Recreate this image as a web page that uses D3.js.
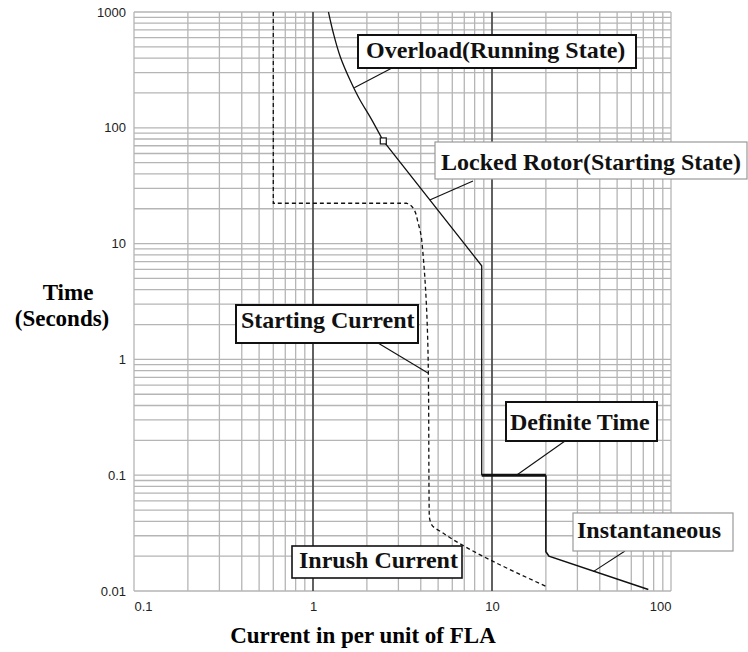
<!DOCTYPE html>
<html>
<head>
<meta charset="utf-8">
<script src="https://cdn.jsdelivr.net/npm/d3@7"></script>
<style>
  html, body { margin: 0; padding: 0; background: #fff; }
  #chart { width: 748px; height: 652px; }
</style>
</head>
<body>
<div id="chart"></div>
<script>
// tick values
var xTicks = [0.1, 1, 10, 100];
var yTicks = [0.01, 0.1, 1, 10, 100, 1000];
var majorX = [1, 10];

// curves, [current pu, time s]
var overloadCurve = [[1.22, 1000], [1.30, 655], [1.42, 411], [1.61, 259], [1.83, 174], [2.08, 125], [2.47, 77]];
var lockedRotor = [[2.47, 77], [8.76, 6.44], [8.76, 0.1]];
var definiteTime = [[8.76, 0.1], [20, 0.1]];
var instantaneous = [[20, 0.1], [20, 0.0218], [20.8, 0.02], [74.7, 0.0103]];
var startingCurrent = [[0.6, 1000], [0.6, 22.3], [3.34, 22.3], [3.63, 20.2], [3.87, 15], [4.05, 10.7], [4.41, 0.76], [4.46, 0.0453], [4.61, 0.0372], [5.35, 0.0315], [20.2, 0.0109]];
var markerPoint = [2.47, 77];

// annotation texts and the curve point each leader touches
var labelTexts = ["Overload(Running State)", "Locked Rotor(Starting State)", "Starting Current", "Definite Time", "Instantaneous", "Inrush Current"];
var leaderTargets = [[1.70, 222], [4.49, 23.8], [4.41, 0.76], [13.7, 0.1], [36.8, 0.0147], null];

var W = 748, H = 652;
var svg = d3.select("#chart").append("svg")
    .attr("width", W)
    .attr("height", H)
    .style("background", "#fff");

var x = d3.scaleLog().domain([0.1, 100]).range([134, 671]);
var y = d3.scaleLog().domain([0.01, 1000]).range([591, 12]);

// grid
var gridX = [], gridY = [];
for (var k = -1; k <= 1; k++) for (var d = 1; d <= 9; d++) gridX.push(d * Math.pow(10, k));
gridX.push(100);
for (var k = -2; k <= 2; k++) for (var d = 1; d <= 9; d++) gridY.push(d * Math.pow(10, k));
gridY.push(1000);

var grid = svg.append("g");
grid.selectAll("line.h").data(gridY).enter().append("line")
    .attr("class", "h")
    .attr("x1", x.range()[0]).attr("x2", x.range()[1])
    .attr("y1", function(v) { return y(v); }).attr("y2", function(v) { return y(v); })
    .style("stroke", "#b5b5b5").style("stroke-width", 1.3);
grid.selectAll("line.v").data(gridX).enter().append("line")
    .attr("class", "v")
    .attr("y1", y.range()[0]).attr("y2", y.range()[1])
    .attr("x1", function(v) { return x(v); }).attr("x2", function(v) { return x(v); })
    .style("stroke", "#b5b5b5").style("stroke-width", 1.3);
grid.selectAll("line.m").data(majorX).enter().append("line")
    .attr("class", "m")
    .attr("y1", y.range()[0]).attr("y2", y.range()[1])
    .attr("x1", function(v) { return x(v); }).attr("x2", function(v) { return x(v); })
    .style("stroke", "#3c3c3c").style("stroke-width", 1.5);

// axes (labels only)
var fmt = function(v) { return String(v); };
var ax = svg.append("g")
    .attr("transform", "translate(0," + y.range()[0] + ")")
    .call(d3.axisBottom(x).tickValues(xTicks).tickSize(0).tickPadding(11).tickFormat(fmt));
var ay = svg.append("g")
    .attr("transform", "translate(" + x.range()[0] + ",0)")
    .call(d3.axisLeft(y).tickValues(yTicks).tickSize(0).tickPadding(8).tickFormat(fmt));
[ax, ay].forEach(function(a) {
  a.select(".domain").remove();
  a.selectAll("text")
    .style("font-family", "'Liberation Sans', Arial, sans-serif")
    .style("font-size", "13px")
    .style("fill", "#222");
});
ax.selectAll("text").attr("text-anchor", function(v, i) {
  return i == 0 ? "start" : (i == xTicks.length - 1 ? "end" : "middle");
});

// axis titles
var titleFont = "'Liberation Serif', 'Times New Roman', serif";
svg.append("text").attr("x", 68).attr("y", 300).attr("text-anchor", "middle")
    .style("font-family", titleFont).style("font-weight", "bold").style("font-size", "23px")
    .text("Time");
svg.append("text").attr("x", 62).attr("y", 326).attr("text-anchor", "middle")
    .style("font-family", titleFont).style("font-weight", "bold").style("font-size", "23px")
    .text("(Seconds)");
svg.append("text").attr("x", 363).attr("y", 643).attr("text-anchor", "middle")
    .style("font-family", titleFont).style("font-weight", "bold").style("font-size", "23px")
    .text("Current in per unit of FLA");

// curves
var line = d3.line()
    .x(function(p) { return x(p[0]); })
    .y(function(p) { return y(p[1]); });
var smooth = d3.line()
    .x(function(p) { return x(p[0]); })
    .y(function(p) { return y(p[1]); })
    .curve(d3.curveMonotoneY);

svg.append("path").datum(startingCurrent)
    .attr("d", smooth)
    .style("fill", "none").style("stroke", "#111").style("stroke-width", 1.3)
    .style("stroke-dasharray", "4,3");

svg.append("path").datum(overloadCurve)
    .attr("d", smooth)
    .style("fill", "none").style("stroke", "#111").style("stroke-width", 1.3);
svg.append("path").datum(lockedRotor)
    .attr("d", line)
    .style("fill", "none").style("stroke", "#111").style("stroke-width", 1.3);
svg.append("path").datum(definiteTime)
    .attr("d", line)
    .style("fill", "none").style("stroke", "#111").style("stroke-width", 3);
svg.append("path").datum(instantaneous)
    .attr("d", line)
    .style("fill", "none").style("stroke", "#111").style("stroke-width", 1.6);

svg.append("rect")
    .attr("x", x(markerPoint[0]) - 3).attr("y", y(markerPoint[1]) - 3)
    .attr("width", 6).attr("height", 6)
    .style("fill", "#fff").style("stroke", "#111").style("stroke-width", 1.2);

// annotation boxes: [left, top, right, bottom, text x, baseline, border colour, border width, leader start x, leader start y]
var boxLayout = [
  [358, 35, 636, 68, 366, 58, "#111", 2, 392, 68],
  [435, 142, 747, 179, 441, 170, "#999", 1.2, 473, 181],
  [236, 305, 418, 343, 241, 328, "#111", 2, 378, 343],
  [506, 402, 657, 441, 510, 430, "#111", 2, 565, 441],
  [573, 513, 733, 551, 577, 538, "#999", 1.2, 625, 551],
  [292, 546, 462, 578, 299, 568, "#111", 1.6, 0, 0]
];

labelTexts.forEach(function(txt, i) {
  var b = boxLayout[i];
  var t = leaderTargets[i];
  if (t) {
    svg.append("line")
      .attr("x1", b[8]).attr("y1", b[9])
      .attr("x2", x(t[0])).attr("y2", y(t[1]))
      .style("stroke", "#111").style("stroke-width", 1.1);
  }
  svg.append("rect")
    .attr("x", b[0]).attr("y", b[1])
    .attr("width", b[2] - b[0]).attr("height", b[3] - b[1])
    .style("fill", "#fff").style("stroke", b[6]).style("stroke-width", b[7]);
  svg.append("text")
    .attr("x", b[4]).attr("y", b[5])
    .style("font-family", titleFont).style("font-weight", "bold").style("font-size", "24px")
    .style("fill", "#111")
    .text(txt);
});
</script>
</body>
</html>
